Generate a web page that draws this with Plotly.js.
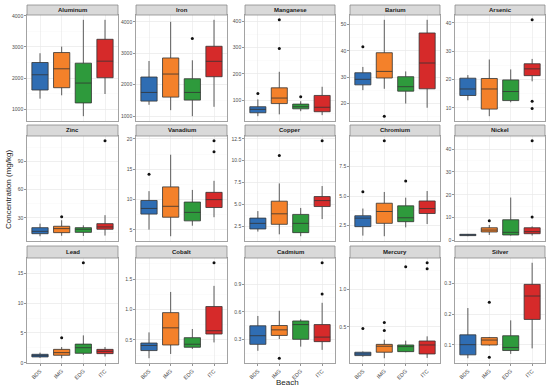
<!DOCTYPE html>
<html>
<head>
<meta charset="utf-8">
<script src="https://cdn.plot.ly/plotly-3.0.1.min.js"></script>
<style>html,body{margin:0;padding:0;background:#fff;}#chart{width:550px;height:390px;}</style>
</head>
<body>
<div id="chart"></div>
<script>
// ---- Data ----
const beaches = ['BDS', 'IMG', 'EDG', 'ITC'];
const beachColors = ['#2f6db3', '#f4812a', '#2e9a3c', '#d62a2a'];
const elements = ['Aluminum', 'Iron', 'Manganese', 'Barium', 'Arsenic',
                  'Zinc', 'Vanadium', 'Copper', 'Chromium', 'Nickel',
                  'Lead', 'Cobalt', 'Cadmium', 'Mercury', 'Silver'];

// whisker ends, quartiles and medians per element, in order BDS, IMG, EDG, ITC
const whiskerLow = [
  [1340, 1447, 777, 1489], [1362, 1191, 1000, 1298], [39, 46, 58, 43], [25.1, 25.6, 20.0, 18.4], [12.7, 7.1, 12.0, 19.4],
  [10.5, 11, 10.8, 11.2], [5.06, 3.97, 5.7, 7.1], [1.9, 1.59, 1.37, 3.33], [1.66, 1.61, 2.36, 2.64], [1.9, 2.45, 2.2, 2.2],
  [0.82, 0.76, 1.31, 1.04], [0.2, 0.27, 0.353, 0.46], [0.18, 0.307, 0.225, 0.19], [0.1, 0.08, 0.16, 0.084], [0.057, 0.098, 0.071, 0.089]
];
const quart1 = [
  [1617, 1691, 1202, 2011], [1479, 1606, 1511, 2255], [52, 87, 67, 56], [27.1, 29.7, 24.7, 25.6], [14.4, 9.6, 12.6, 21.4],
  [13.2, 14.3, 14.6, 17.9], [7.62, 7.1, 6.5, 8.7], [2.2, 2.73, 1.78, 4.76], [2.42, 2.7, 2.84, 3.53], [2.17, 3.75, 2.45, 3.0],
  [0.98, 1.26, 1.59, 1.53], [0.326, 0.418, 0.38, 0.598], [0.25, 0.346, 0.304, 0.279], [0.115, 0.16, 0.168, 0.137], [0.068, 0.1, 0.082, 0.183]
];
const medians = [
  [2106, 2298, 1840, 2543], [1755, 2340, 1755, 2745], [65, 108, 75, 73], [29.2, 32.2, 26.4, 35.4], [16.7, 16.7, 15.8, 23.8],
  [15.7, 18.6, 17.9, 20.4], [8.55, 8.9, 7.9, 10.0], [2.84, 3.93, 2.84, 5.44], [3.14, 3.7, 3.17, 3.95], [2.45, 4.6, 3.6, 3.9],
  [1.2, 1.7, 2.53, 1.92], [0.41, 0.70, 0.43, 0.652], [0.343, 0.406, 0.463, 0.328], [0.137, 0.24, 0.235, 0.257], [0.101, 0.116, 0.092, 0.259]
];
const quart3 = [
  [2500, 2819, 2479, 3245], [2245, 2851, 2191, 3223], [75, 147, 85, 118], [31.7, 39.3, 30.2, 46.8], [20.5, 20.4, 19.9, 25.6],
  [19.6, 21.1, 19.6, 23.9], [9.86, 12.1, 9.6, 11.2], [3.44, 5.37, 3.86, 5.9], [3.34, 4.4, 4.18, 4.59], [2.74, 5.6, 9.1, 5.6],
  [1.42, 2.25, 3.13, 2.25], [0.45, 0.95, 0.538, 1.05], [0.45, 0.453, 0.502, 0.463], [0.16, 0.265, 0.257, 0.31], [0.133, 0.124, 0.13, 0.297]
];
const whiskerHigh = [
  [2798, 3010, 3870, 3870], [2755, 4000, 2777, 4064], [103, 208, 96, 151], [33.9, 51.8, 32.2, 51.8], [21.6, 27.1, 23.6, 27.3],
  [23.9, 27.5, 22.1, 32.9], [11.4, 17.4, 11.6, 13.1], [4.24, 7.4, 4.6, 7.1], [3.95, 5.35, 4.87, 5.43], [2.9, 6.8, 18.8, 6.2],
  [1.7, 2.64, 4.6, 2.64], [0.625, 1.29, 0.68, 1.39], [0.556, 0.612, 0.52, 0.698], [0.17, 0.327, 0.314, 0.372], [0.22, 0.126, 0.18, 0.367]
];
// outliers: beach and value
const outlierBeach = [
  [], ['EDG'], ['BDS', 'IMG', 'IMG', 'EDG'], ['BDS', 'IMG'], ['ITC', 'ITC', 'ITC'],
  ['IMG', 'ITC'], ['BDS', 'ITC', 'ITC'], ['IMG', 'ITC'], ['BDS', 'IMG', 'EDG'], ['IMG', 'ITC', 'ITC'],
  ['IMG', 'EDG'], ['ITC'], ['IMG', 'ITC', 'ITC'], ['BDS', 'IMG', 'IMG', 'EDG', 'ITC', 'ITC'], ['IMG', 'IMG']
];
const outlierValue = [
  [], [3468], [125, 406, 297, 113], [41.6, 15.2], [41.1, 12.4, 9.8],
  [31.1, 112], [14.2, 19.7, 17.9], [10.6, 12.27], [5.38, 9.68, 6.27], [8.7, 43.6, 10.3],
  [4.18, 16.8], [1.77], [0.1, 1.13, 0.794], [0.478, 0.557, 0.45, 1.30, 1.354, 1.274], [0.239, 0.06]
];
// y tick values and label formats
const yTickValues = [
  [1000, 2000, 3000, 4000], [1000, 2000, 3000, 4000], [100, 200, 300, 400], [20, 30, 40, 50], [10, 20, 30, 40],
  [30, 60, 90], [5, 10, 15, 20], [2.5, 5, 7.5, 10, 12.5], [2.5, 5, 7.5], [0, 10, 20, 30, 40],
  [0, 5, 10, 15], [0.5, 1, 1.5], [0.3, 0.6, 0.9], [0.5, 1.0], [0.1, 0.2, 0.3]
];
const yTickFormat = ['', '', '', '', '', '', '', '.1f', '.1f', '', '', '.1f', '.1f', '.1f', '.1f'];

// ---- Layout geometry (pixels) ----
const W = 550, H = 390;
const colX = [[27, 118], [136, 227], [245, 335], [350, 440], [455, 545]];
const rowY = [[15, 121, 5], [136, 241, 125], [258, 363, 246]]; // plot top, plot bottom, strip top

const traces = [];
const layout = {
  width: W, height: H,
  margin: {l: 0, r: 0, t: 0, b: 0},
  paper_bgcolor: '#ffffff', plot_bgcolor: '#ffffff',
  showlegend: false,
  boxmode: 'overlay',
  font: {family: 'Liberation Sans, Arial, sans-serif', color: '#4d4d4d'},
  shapes: [], annotations: []
};

elements.forEach((name, i) => {
  const n = i + 1;
  const xa = n === 1 ? 'x' : 'x' + n;
  const ya = n === 1 ? 'y' : 'y' + n;
  const col = i % 5, row = Math.floor(i / 5);
  const [px0, px1] = colX[col];
  const [py0, py1, ps] = rowY[row];
  const bottom = row === 2;

  beaches.forEach((b, j) => {
    traces.push({
      type: 'box', xaxis: xa, yaxis: ya,
      x: [b],
      lowerfence: [whiskerLow[i][j]], q1: [quart1[i][j]], median: [medians[i][j]],
      q3: [quart3[i][j]], upperfence: [whiskerHigh[i][j]],
      fillcolor: beachColors[j],
      line: {color: '#333333', width: 0.8},
      whiskerwidth: 0, width: 0.75, boxpoints: false,
      hoverinfo: 'skip'
    });
  });
  if (outlierValue[i].length) {
    traces.push({
      type: 'scatter', mode: 'markers', xaxis: xa, yaxis: ya,
      x: outlierBeach[i], y: outlierValue[i],
      marker: {color: '#111111', size: 3},
      hoverinfo: 'skip'
    });
  }

  // y range from data, with 5% expansion
  const all = whiskerLow[i].concat(whiskerHigh[i], outlierValue[i]);
  const lo = Math.min(...all), hi = Math.max(...all);
  const pad = (hi - lo) * 0.05;
  const step = yTickValues[i][1] - yTickValues[i][0];

  const key = n === 1 ? '' : n;
  layout['xaxis' + key] = {
    domain: [px0 / W, px1 / W], anchor: ya,
    type: 'category', categoryorder: 'array', categoryarray: beaches,
    range: [-0.6, 3.6],
    showgrid: true, gridcolor: '#e8e8e8', gridwidth: 0.6,
    showline: true, mirror: true, linecolor: '#8c8c8c', linewidth: 0.8,
    zeroline: false,
    ticks: bottom ? 'outside' : '', ticklen: 2, tickcolor: '#4d4d4d', tickwidth: 0.6,
    showticklabels: bottom, tickangle: -45,
    tickfont: {size: 5.5, color: '#4d4d4d'},
    fixedrange: true
  };
  layout['yaxis' + key] = {
    domain: [1 - py1 / H, 1 - py0 / H], anchor: xa,
    range: [lo - pad, hi + pad],
    tickmode: 'array', tickvals: yTickValues[i], tickformat: yTickFormat[i],
    showgrid: true, gridcolor: '#e8e8e8', gridwidth: 0.6,
    minor: {tick0: 0, dtick: step / 2, showgrid: true, gridcolor: '#f4f4f4', gridwidth: 0.4, ticks: ''},
    showline: true, mirror: true, linecolor: '#8c8c8c', linewidth: 0.8,
    zeroline: false,
    ticks: 'outside', ticklen: 2, tickcolor: '#4d4d4d', tickwidth: 0.6,
    tickfont: {size: 5, color: '#4d4d4d'},
    fixedrange: true
  };

  // strip
  layout.shapes.push({
    type: 'rect', xref: 'paper', yref: 'paper',
    x0: px0 / W, x1: px1 / W, y0: 1 - py0 / H, y1: 1 - ps / H,
    fillcolor: '#d9d9d9', line: {color: '#8c8c8c', width: 0.8}, layer: 'above'
  });
  layout.annotations.push({
    xref: 'paper', yref: 'paper', x: (px0 + px1) / 2 / W, y: 1 - (py0 + ps) / 2 / H,
    text: '<b>' + name + '</b>', showarrow: false,
    xanchor: 'center', yanchor: 'middle',
    font: {size: 6, color: '#1a1a1a'}
  });
});

layout.annotations.push({
  xref: 'paper', yref: 'paper', x: 8 / W, y: 1 - 190 / H,
  text: 'Concentration (mg/kg)', textangle: -90, showarrow: false,
  xanchor: 'center', yanchor: 'middle',
  font: {size: 8, color: '#1a1a1a'}
});
layout.annotations.push({
  xref: 'paper', yref: 'paper', x: 287 / W, y: 1 - 382 / H,
  text: 'Beach', showarrow: false,
  xanchor: 'center', yanchor: 'middle',
  font: {size: 8, color: '#1a1a1a'}
});

Plotly.newPlot('chart', traces, layout, {displayModeBar: false, staticPlot: true});
</script>
</body>
</html>
